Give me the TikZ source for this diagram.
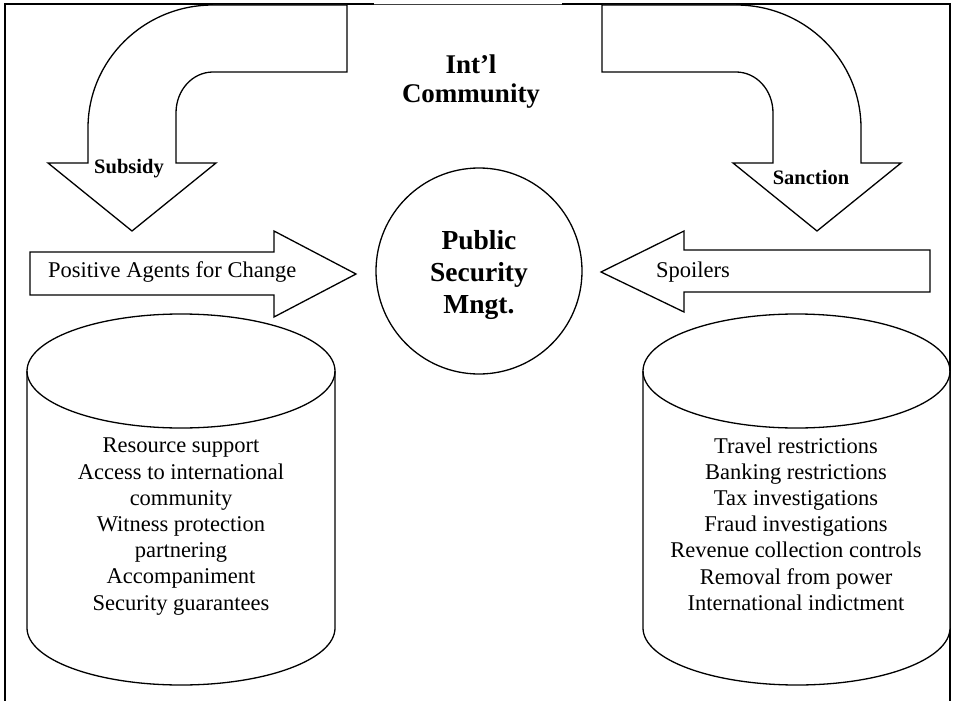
\documentclass[tikz,border=0pt]{standalone}
\usepackage{fontspec}
\setmainfont{Liberation Serif}
\begin{document}
\begin{tikzpicture}[x=1pt,y=-1pt,line join=miter,
  outl/.style={draw=black,line width=1.3pt,fill=white},
  frameline/.style={line width=2pt},
  bodytext/.style={inner sep=0pt,font=\fontsize{22.5}{26.2}\selectfont,align=center},
  titletext/.style={inner sep=0pt,font=\fontsize{27}{29}\selectfont\bfseries,align=center},
  labeltext/.style={inner sep=0pt,font=\fontsize{20.5}{24}\selectfont\bfseries}]
\useasboundingbox (0,0) rectangle (956,701);
\fill[white] (0,0) rectangle (956,701);
% frame
\draw[frameline] (4.5,701) -- (4.5,4) -- (374,4);
\draw[line width=0.8pt,black!75] (374,4) -- (562,4);
\draw[frameline] (562,4) -- (950,4) -- (950,701);
% curved arrow left (Subsidy)
\draw[outl] (347,5) -- (213,5) .. controls (144,5) and (88,60) .. (88,128)
  -- (88,163) -- (48,163) -- (132,231) -- (216,163) -- (176,163) -- (176,113)
  .. controls (176,90) and (192.6,72) .. (213,72) -- (347,72) -- cycle;
% curved arrow right (Sanction)
\draw[outl] (602,5) -- (736,5) .. controls (805,5) and (861,60) .. (861,128)
  -- (861,163) -- (901,163) -- (817,231) -- (733,163) -- (773,163) -- (773,113)
  .. controls (773,90) and (756.4,72) .. (736,72) -- (602,72) -- cycle;
% straight arrows
\draw[outl] (30,252) -- (274,252) -- (274,231) -- (356,274) -- (274,317) -- (274,295) -- (30,295) -- cycle;
\draw[outl] (930,250) -- (684,250) -- (684,231) -- (601,272) -- (684,312) -- (684,292) -- (930,292) -- cycle;
% circle
\node[circle,draw,line width=1.3pt,minimum size=206pt,inner sep=0pt] (psm) at (479,271) {};
% cylinders
\draw[outl] (27,371) -- (27,628) .. controls (27,659.5) and (96,685) .. (181,685)
  .. controls (266,685) and (335,659.5) .. (335,628) -- (335,371);
\draw[line width=1.3pt] (181,371) ellipse [x radius=154pt, y radius=57pt];
\draw[outl] (643,371) -- (643,628) .. controls (643,659.5) and (712,685) .. (797,685)
  .. controls (882,685) and (950,659.5) .. (950,628) -- (950,371);
\draw[line width=1.3pt] (796.5,371) ellipse [x radius=153.5pt, y radius=57pt];
% texts
\node[titletext] (intl) at (471,82) {Int’l\\Community};
\node[titletext,font=\fontsize{27.5}{32}\selectfont\bfseries] (psmtext) at (479,275) {Public\\Security\\Mngt.};
\node[labeltext,anchor=base] (subsidy) at (129,173) {Subsidy};
\node[labeltext,anchor=base] (sanction) at (811,184) {Sanction};
\node[bodytext,anchor=base west] (pos) at (48,277) {Positive Agents for Change};
\node[bodytext,anchor=base west] (spoil) at (656,277) {Spoilers};
\node[bodytext] (leftlist) at (181,526.5) {Resource support\\Access to international\\community\\Witness protection\\partnering\\Accompaniment\\Security guarantees};
\node[bodytext] (rightlist) at (796,524) {Travel restrictions\\Banking restrictions\\Tax investigations\\Fraud investigations\\Revenue collection controls\\Removal from power\\International indictment};
\end{tikzpicture}
\end{document}
